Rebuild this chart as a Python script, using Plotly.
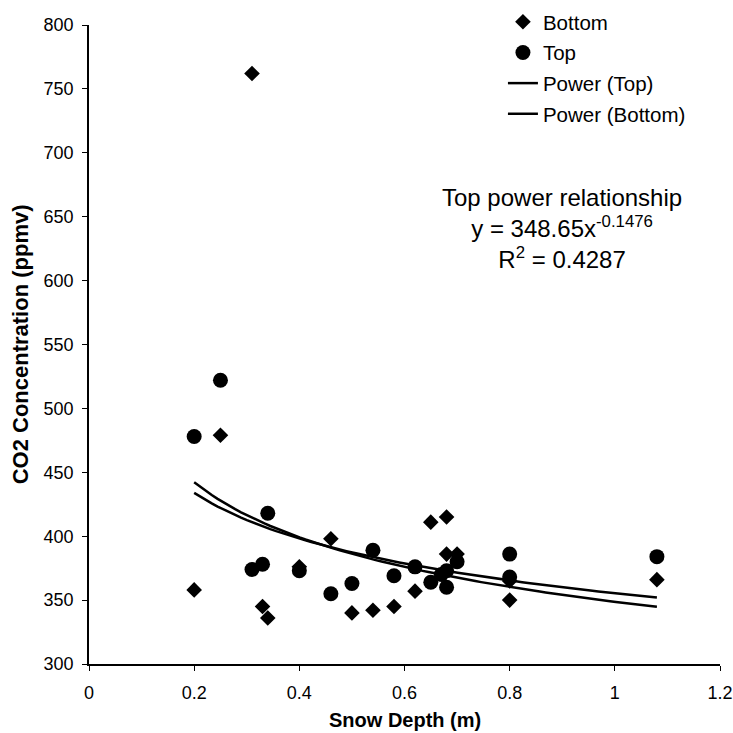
import numpy as np
import plotly.graph_objects as go

# Bottom samples (diamonds)
bottom_depth = [0.20, 0.25, 0.31, 0.33, 0.34, 0.40, 0.46, 0.50, 0.54, 0.58,
                0.62, 0.65, 0.68, 0.68, 0.70, 0.80, 0.80, 1.08]
bottom_co2 = [358, 479, 762, 345, 336, 376, 398, 340, 342, 345,
              357, 411, 415, 386, 386, 350, 365, 366]

# Top samples (circles)
top_depth = [0.20, 0.25, 0.31, 0.33, 0.34, 0.40, 0.46, 0.50, 0.54, 0.58,
             0.62, 0.65, 0.67, 0.68, 0.68, 0.70, 0.80, 0.80, 1.08]
top_co2 = [478, 522, 374, 378, 418, 373, 355, 363, 389, 369,
           376, 364, 370, 360, 373, 380, 386, 368, 384]

# power trend coefficients y = a * x^b
top_a, top_b = 348.65, -0.1476
bottom_a, bottom_b = 355.4, -0.124

x_ticks = [0, 0.2, 0.4, 0.6, 0.8, 1, 1.2]
y_ticks = [300, 350, 400, 450, 500, 550, 600, 650, 700, 750, 800]

font = "Liberation Sans, Arial, sans-serif"

xs = np.linspace(0.2, 1.08, 80)

fig = go.Figure()
fig.add_trace(go.Scatter(x=bottom_depth, y=bottom_co2, mode="markers", name="Bottom",
                         legendgroup="a",
                         marker=dict(symbol="diamond", size=12, color="black")))
fig.add_trace(go.Scatter(x=top_depth, y=top_co2, mode="markers", name="Top",
                         legendgroup="b",
                         marker=dict(symbol="circle", size=15, color="black")))
fig.add_trace(go.Scatter(x=xs, y=top_a * xs ** top_b, mode="lines", name="Power (Top)",
                         legendgroup="c", line=dict(color="black", width=2.5)))
fig.add_trace(go.Scatter(x=xs, y=bottom_a * xs ** bottom_b, mode="lines", name="Power (Bottom)",
                         legendgroup="d", line=dict(color="black", width=2.5)))

# fit equation box
fig.add_annotation(x=0.75, y=0.682, xref="paper", yref="paper", showarrow=False,
                   xanchor="center", yanchor="middle",
                   text="Top power relationship<br>y = 348.65x<sup>-0.1476</sup><br>R<sup>2</sup> = 0.4287",
                   font=dict(family=font, size=24, color="black"), align="center")

# axis titles
fig.add_annotation(x=0.5, y=-0.0876, xref="paper", yref="paper", showarrow=False,
                   xanchor="center", yanchor="middle",
                   text="<b>Snow Depth (m)</b>", font=dict(family=font, size=20, color="black"))
fig.add_annotation(x=-0.108, y=0.5, xref="paper", yref="paper", showarrow=False,
                   xanchor="center", yanchor="middle", textangle=-90,
                   text="<b>CO2 Concentration (ppmv)</b>", font=dict(family=font, size=22, color="black"))

fig.update_layout(
    width=733, height=733,
    margin=dict(l=89, r=13, t=25, b=69, autoexpand=False),
    paper_bgcolor="white", plot_bgcolor="white",
    font=dict(family=font, size=18, color="black"),
    legend=dict(x=0.656, y=1.036, xanchor="left", yanchor="top",
                font=dict(size=20.5), tracegroupgap=1, itemwidth=30,
                bgcolor="rgba(0,0,0,0)", traceorder="grouped"),
    xaxis=dict(range=[0, 1.2], tickvals=x_ticks, ticktext=[str(v) for v in x_ticks],
               showgrid=False, zeroline=False, showline=True, linecolor="black", linewidth=1.5,
               ticks="outside", ticklen=5, tickcolor="black", ticklabelstandoff=7,
               ticklabeloverflow="allow", automargin=False),
    yaxis=dict(range=[300, 800], tickvals=y_ticks,
               showgrid=False, zeroline=False, showline=True, linecolor="black", linewidth=1.5,
               ticks="outside", ticklen=5, tickcolor="black", ticklabelstandoff=5,
               ticklabeloverflow="allow", automargin=False),
)

# drop the page's default body margin so the 733px figure fills the window
fig.write_html("out.html", config={"displayModeBar": False},
               post_script="document.body.style.margin='0';")
